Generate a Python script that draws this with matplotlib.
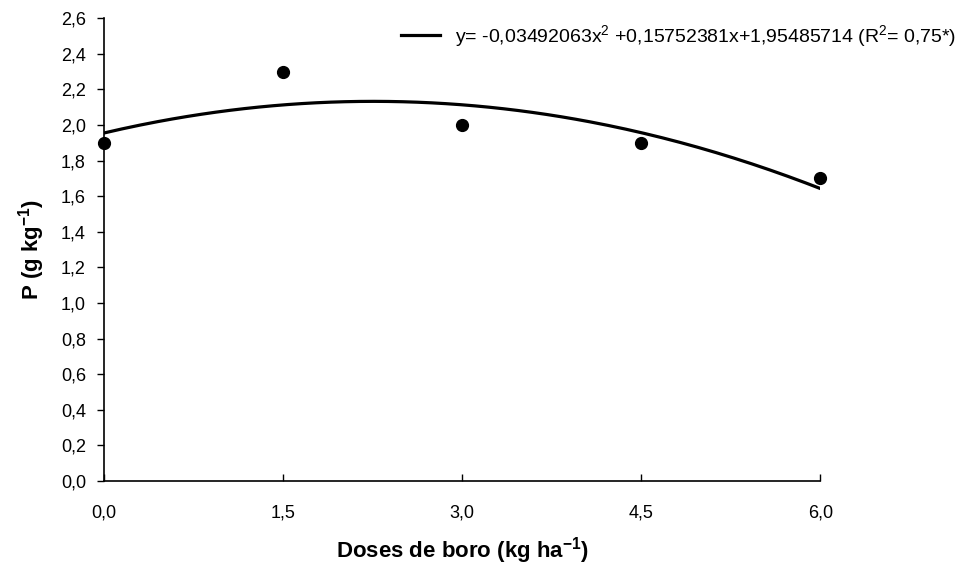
import numpy as np
import matplotlib
matplotlib.use("Agg")
import matplotlib.pyplot as plt

plt.rcParams["font.family"] = ["Liberation Sans", "DejaVu Sans"]
plt.rcParams["mathtext.fontset"] = "custom"
plt.rcParams["mathtext.rm"] = "Liberation Sans"
plt.rcParams["mathtext.bf"] = "Liberation Sans:bold"
plt.rcParams["mathtext.default"] = "regular"

# observed means
doses = [0.0, 1.5, 3.0, 4.5, 6.0]
p_values = [1.9, 2.3, 2.0, 1.9, 1.7]

# fitted quadratic, coefficients as printed in the legend
coefs = [-0.03492063, 0.15752381, 1.95485714]
fit_label = r"y= -0,03492063x$^2$ +0,15752381x+1,95485714 (R$^2$= 0,75*)"

xticks = [0.0, 1.5, 3.0, 4.5, 6.0]
yticks = np.arange(0, 2.61, 0.2)

fig = plt.figure(figsize=(9.72, 5.66), dpi=100)
ax = fig.add_axes([0.107, 0.150, 0.737, 0.818])

xs = np.linspace(0, 6, 200)
ax.plot(xs, np.polyval(coefs, xs), color="black", lw=2.3, label=fit_label)
ax.plot(doses, p_values, "o", color="black", markersize=8.5, clip_on=False)

ax.set_xlim(0, 6)
ax.set_ylim(0, 2.6)
ax.set_xticks(xticks)
ax.set_xticklabels([f"{v:.1f}".replace(".", ",") for v in xticks])
ax.set_yticks(yticks)
ax.set_yticklabels([f"{v:.1f}".replace(".", ",") for v in yticks])
ax.tick_params(axis="x", direction="in", length=5, width=1, labelsize=13, pad=17)
ax.tick_params(axis="y", direction="out", length=5, width=1, labelsize=13, pad=8)

ax.spines["top"].set_visible(False)
ax.spines["right"].set_visible(False)
ax.spines["left"].set_linewidth(1.2)
ax.spines["bottom"].set_linewidth(1.2)

ax.set_xlabel(r"Doses de boro (kg ha$^{\mathbf{-1}}$)", fontsize=16, fontweight="bold", labelpad=10)
ax.set_ylabel(r"P (g kg$^{\mathbf{-1}}$)", fontsize=16, fontweight="bold", labelpad=10)

ax.legend(loc="upper left", bbox_to_anchor=(0.395, 0.99), bbox_transform=fig.transFigure,
          frameon=False, fontsize=14, handlelength=2.0, handletextpad=0.75)

fig.savefig("out.png", dpi=100)
